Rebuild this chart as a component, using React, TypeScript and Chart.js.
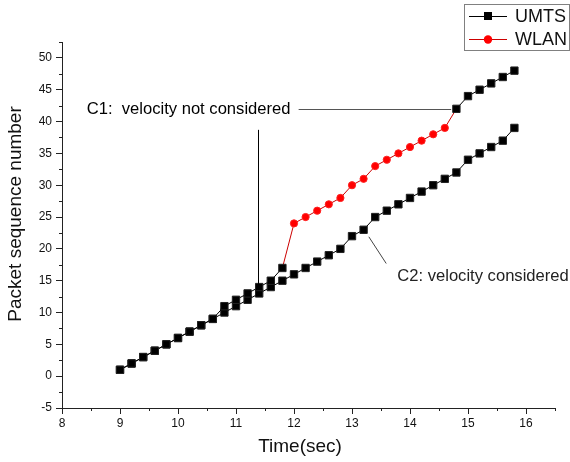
import React, { useEffect, useRef } from 'react';
import { Chart, registerables } from 'chart.js';

Chart.register(...registerables);

const FONT = '"Liberation Sans", Arial, Helvetica, sans-serif';

// C1 (velocity not considered): UMTS before handover
const timeC1Before = [9.0, 9.2, 9.4, 9.6, 9.8, 10.0, 10.2, 10.4, 10.6, 10.8, 11.0, 11.2, 11.4, 11.6, 11.8];
const umtsC1Before = [1, 2, 3, 4, 5, 6, 7, 8, 9, 11, 12, 13, 14, 15, 17];
// C1: WLAN segment
const timeWlan = [12.0, 12.2, 12.4, 12.6, 12.8, 13.0, 13.2, 13.4, 13.6, 13.8, 14.0, 14.2, 14.4, 14.6];
const wlanC1 = [24, 25, 26, 27, 28, 30, 31, 33, 34, 35, 36, 37, 38, 39];
// C1: UMTS after returning
const timeC1After = [14.8, 15.0, 15.2, 15.4, 15.6, 15.8];
const umtsC1After = [42, 44, 45, 46, 47, 48];
// C2 (velocity considered): UMTS throughout
const timeC2 = [9.0, 9.2, 9.4, 9.6, 9.8, 10.0, 10.2, 10.4, 10.6, 10.8, 11.0, 11.2, 11.4, 11.6, 11.8,
  12.0, 12.2, 12.4, 12.6, 12.8, 13.0, 13.2, 13.4, 13.6, 13.8, 14.0, 14.2, 14.4, 14.6, 14.8,
  15.0, 15.2, 15.4, 15.6, 15.8];
const umtsC2 = [1, 2, 3, 4, 5, 6, 7, 8, 9, 10, 11, 12, 13, 14, 15,
  16, 17, 18, 19, 20, 22, 23, 25, 26, 27, 28, 29, 30, 31, 32,
  34, 35, 36, 37, 39];

// Axis ticks
const xMajorTicks = [8, 9, 10, 11, 12, 13, 14, 15, 16];
const xMinorTicks = [8.5, 9.5, 10.5, 11.5, 12.5, 13.5, 14.5, 15.5, 16.5];
const yMajorTicks = [-5, 0, 5, 10, 15, 20, 25, 30, 35, 40, 45, 50];
const yMinorTicks = [-2.5, 2.5, 7.5, 12.5, 17.5, 22.5, 27.5, 32.5, 37.5, 42.5, 47.5, 52.5];

const xTitle = 'Time(sec)';
const yTitle = 'Packet sequence number';

// Annotations (data coordinates)
const c1Label = { text: 'C1:  velocity not considered', x: 11.94, y: 41.9 };
const c1HLine = { x1: 12.08, x2: 14.71, y: 41.9 };
const c1VLine = { x: 11.38, y1: 38.7, y2: 14.3 };
const c2Label = { text: 'C2: velocity considered', x: 13.78, y: 15.6 };
const c2Line = { x1: 13.29, y1: 21.9, x2: 13.59, y2: 17.7 };

const legendItems = ['UMTS', 'WLAN'];

const pts = (xs: number[], ys: number[]) => xs.map((x, i) => ({ x, y: ys[i] }));

const annotationPlugin = {
  id: 'annotations',
  afterDatasetsDraw(chart: any) {
    const { ctx, scales } = chart;
    const x = scales.x;
    const y = scales.y;
    ctx.save();
    ctx.lineWidth = 1;
    // vertical C1 line
    ctx.strokeStyle = '#000';
    const vx = Math.round(x.getPixelForValue(c1VLine.x)) + 0.5;
    ctx.beginPath();
    ctx.moveTo(vx, y.getPixelForValue(c1VLine.y1));
    ctx.lineTo(vx, y.getPixelForValue(c1VLine.y2));
    ctx.stroke();
    // horizontal C1 line
    ctx.strokeStyle = '#555';
    const hy = Math.round(y.getPixelForValue(c1HLine.y)) + 0.5;
    ctx.beginPath();
    ctx.moveTo(x.getPixelForValue(c1HLine.x1), hy);
    ctx.lineTo(x.getPixelForValue(c1HLine.x2), hy);
    ctx.stroke();
    // C2 line
    ctx.strokeStyle = '#444';
    ctx.beginPath();
    ctx.moveTo(x.getPixelForValue(c2Line.x1), y.getPixelForValue(c2Line.y1));
    ctx.lineTo(x.getPixelForValue(c2Line.x2), y.getPixelForValue(c2Line.y2));
    ctx.stroke();
    // labels
    ctx.font = `16.6px ${FONT}`;
    ctx.textBaseline = 'middle';
    ctx.fillStyle = '#000';
    ctx.textAlign = 'right';
    ctx.fillText(c1Label.text, x.getPixelForValue(c1Label.x), y.getPixelForValue(c1Label.y));
    ctx.fillStyle = '#222';
    ctx.textAlign = 'left';
    ctx.fillText(c2Label.text, x.getPixelForValue(c2Label.x), y.getPixelForValue(c2Label.y));
    ctx.restore();
  },
  afterDraw(chart: any) {
    const { ctx, scales } = chart;
    const x = scales.x;
    const y = scales.y;
    ctx.save();
    ctx.strokeStyle = '#222';
    ctx.lineWidth = 1;
    // minor ticks
    ctx.beginPath();
    xMinorTicks.forEach((v) => {
      const px = Math.round(x.getPixelForValue(v)) + 0.5;
      ctx.moveTo(px, y.bottom);
      ctx.lineTo(px, y.bottom + 3);
    });
    yMinorTicks.forEach((v) => {
      const py = Math.round(y.getPixelForValue(v)) + 0.5;
      ctx.moveTo(x.left - 3, py);
      ctx.lineTo(x.left, py);
    });
    ctx.stroke();

    // axis titles
    ctx.fillStyle = '#111';
    ctx.font = `19px ${FONT}`;
    ctx.textAlign = 'center';
    ctx.textBaseline = 'middle';
    ctx.fillText(xTitle, 300, 447);
    ctx.save();
    ctx.translate(16, 214);
    ctx.rotate(-Math.PI / 2);
    ctx.fillText(yTitle, 0, 0);
    ctx.restore();

    // legend
    ctx.strokeStyle = '#808080';
    ctx.strokeRect(464.5, 4.5, 105, 46);
    const rows = [16, 39];
    const colors = ['#000000', '#ff0000'];
    const lineColors = ['#000000', '#cc0000'];
    rows.forEach((ry, i) => {
      ctx.strokeStyle = lineColors[i];
      ctx.beginPath();
      ctx.moveTo(469, ry + 0.5);
      ctx.lineTo(507, ry + 0.5);
      ctx.stroke();
      ctx.fillStyle = colors[i];
      if (i === 0) {
        ctx.fillRect(484, ry - 4, 8, 8);
      } else {
        ctx.beginPath();
        ctx.arc(488, ry + 0.5, 4.2, 0, Math.PI * 2);
        ctx.fill();
      }
      ctx.fillStyle = '#111';
      ctx.font = `18px ${FONT}`;
      ctx.textAlign = 'left';
      ctx.textBaseline = 'middle';
      ctx.fillText(legendItems[i], 515, ry + 1);
    });
    ctx.restore();
  },
};

export default function App() {
  const ref = useRef<HTMLCanvasElement>(null);
  useEffect(() => {
    if (!ref.current) return;
    const wlanLine = [
      { x: timeC1Before[timeC1Before.length - 1], y: umtsC1Before[umtsC1Before.length - 1] },
      ...pts(timeWlan, wlanC1),
      { x: timeC1After[0], y: umtsC1After[0] },
    ];
    const wlanRadius = wlanLine.map((_, i) => (i === 0 || i === wlanLine.length - 1 ? 0 : 3.6));
    const squareStyle = {
      borderColor: '#000',
      backgroundColor: '#000',
      borderWidth: 1,
      pointStyle: 'rect' as const,
      pointRadius: 5.2,
      pointBorderWidth: 1,
      pointBackgroundColor: '#000',
      pointBorderColor: '#222',
      showLine: true,
      tension: 0,
    };
    const chart = new Chart(ref.current, {
      type: 'scatter',
      data: {
        datasets: [
          { label: 'UMTS', data: pts(timeC1Before, umtsC1Before), ...squareStyle, order: 1 },
          { label: 'UMTS', data: pts(timeC1After, umtsC1After), ...squareStyle, order: 1 },
          { label: 'UMTS', data: pts(timeC2, umtsC2), ...squareStyle, order: 1 },
          {
            label: 'WLAN',
            data: wlanLine,
            showLine: true,
            borderColor: '#cc0000',
            backgroundColor: '#ff0000',
            borderWidth: 1,
            pointStyle: 'circle',
            pointRadius: wlanRadius,
            pointBorderWidth: 1,
            pointBackgroundColor: '#ff0000',
            pointBorderColor: '#ff2020',
            order: 2,
          },
        ],
      },
      options: {
        animation: false,
        responsive: false,
        devicePixelRatio: 1,
        layout: { padding: { top: 42, right: 15, left: 0, bottom: 0 } },
        plugins: { legend: { display: false }, tooltip: { enabled: false } },
        scales: {
          x: {
            type: 'linear',
            min: 8,
            max: 16.5,
            afterBuildTicks: (s: any) => {
              s.ticks = xMajorTicks.map((v) => ({ value: v }));
            },
            afterFit: (s: any) => {
              s.height = 54;
            },
            ticks: {
              autoSkip: false,
              padding: 2,
              color: '#111',
              font: { family: FONT, size: 12 },
              callback: (v: any) => String(v),
            },
            grid: { drawOnChartArea: false, drawTicks: true, tickLength: 6, tickColor: '#222' },
            border: { color: '#222', width: 1 },
            title: { display: false },
          },
          y: {
            type: 'linear',
            min: -5,
            max: 52.5,
            afterBuildTicks: (s: any) => {
              s.ticks = yMajorTicks.map((v) => ({ value: v }));
            },
            afterFit: (s: any) => {
              s.width = 62;
            },
            ticks: {
              autoSkip: false,
              padding: 4,
              color: '#111',
              font: { family: FONT, size: 12 },
              callback: (v: any) => String(v),
            },
            grid: { drawOnChartArea: false, drawTicks: true, tickLength: 6, tickColor: '#222' },
            border: { color: '#222', width: 1 },
            title: { display: false },
          },
        },
      },
      plugins: [annotationPlugin],
    });
    return () => chart.destroy();
  }, []);

  return (
    <div style={{ position: 'absolute', left: 0, top: 0, width: 570, height: 462, background: '#fff' }}>
      <canvas ref={ref} width={570} height={462} style={{ display: 'block' }} />
    </div>
  );
}
